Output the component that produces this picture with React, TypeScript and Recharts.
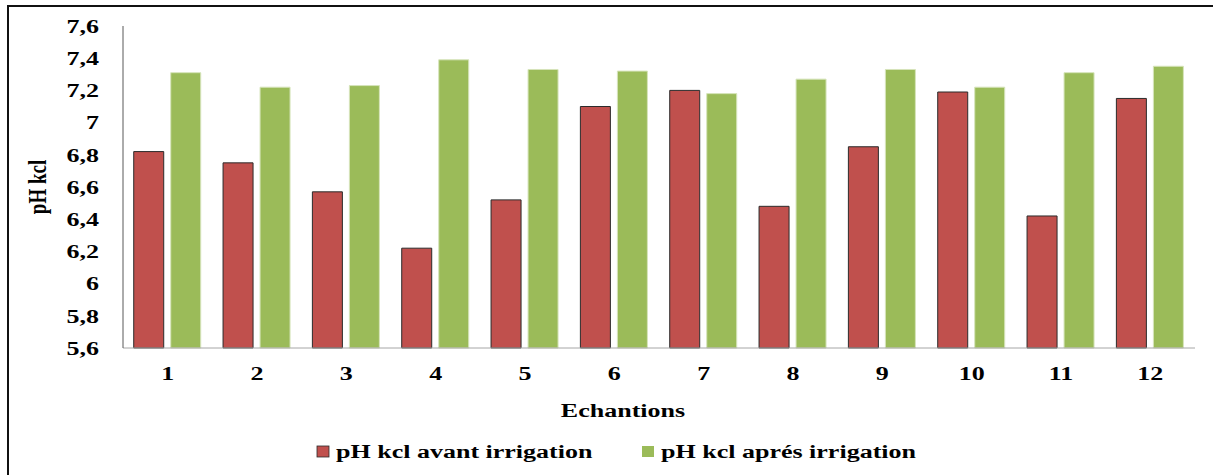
import React from 'react';
import { BarChart, Bar, XAxis, YAxis } from 'recharts';

const echantillons = ['1', '2', '3', '4', '5', '6', '7', '8', '9', '10', '11', '12'];
const avantIrrigation = [6.82, 6.75, 6.57, 6.22, 6.52, 7.1, 7.2, 6.48, 6.85, 7.19, 6.42, 7.15];
const apresIrrigation = [7.31, 7.22, 7.23, 7.39, 7.33, 7.32, 7.18, 7.27, 7.33, 7.22, 7.31, 7.35];
const yTicks = [5.6, 5.8, 6, 6.2, 6.4, 6.6, 6.8, 7, 7.2, 7.4, 7.6];
const seriesNames = ['pH kcl avant irrigation', 'pH kcl aprés irrigation'];

const RED = '#C0504D';
const GREEN = '#9BBB59';
const FONT = '"Liberation Serif", "Times New Roman", serif';
const SX = 1.37; // the original picture is stretched horizontally

const data = echantillons.map((name, i) => ({
  name,
  avant: avantIrrigation[i],
  apres: apresIrrigation[i],
}));

const fmt = (v: number) => String(parseFloat(v.toFixed(1))).replace('.', ',');

const YTick = (props: any) => {
  const { x, y, payload } = props;
  return (
    <g transform={`translate(${x},${y})`}>
      <text transform={`scale(${SX},1)`} textAnchor="end" dy="0.36em" fontFamily={FONT} fontWeight="bold" fontSize={19} fill="#000">
        {fmt(payload.value)}
      </text>
    </g>
  );
};

const XTick = (props: any) => {
  const { x, y, payload } = props;
  return (
    <g transform={`translate(${x},${y})`}>
      <text transform={`scale(${SX},1)`} textAnchor="middle" dy={32} fontFamily={FONT} fontWeight="bold" fontSize={19} fill="#000">
        {payload.value}
      </text>
    </g>
  );
};

export default function App() {
  return (
    <div style={{ position: 'absolute', left: 0, top: 0, width: 1213, height: 475, background: '#fff', overflow: 'hidden' }}>
      <div style={{ position: 'absolute', left: 7, top: 5, width: 1213, height: 475, borderTop: '2px solid #111', borderLeft: '2px solid #111' }} />
      <div style={{ position: 'absolute', left: 0, top: 0 }}>
        <BarChart
          width={1213}
          height={475}
          data={data}
          margin={{ top: 26, right: 18, left: 0, bottom: 97 }}
          barCategoryGap="12%"
          barGap={7}
        >
          <XAxis
            dataKey="name"
            height={30}
            tickSize={0}
            tickMargin={0}
            tick={<XTick />}
            interval={0}
            stroke="#a6a6a6"
            label={() => (
              <g transform="translate(623,417)">
                <text transform={`scale(${SX},1)`} textAnchor="middle" fontFamily={FONT} fontWeight="bold" fontSize={19} fill="#000">
                  Echantions
                </text>
              </g>
            )}
          />
          <YAxis
            width={123}
            domain={[5.6, 7.6]}
            ticks={yTicks}
            interval={0}
            tickSize={0}
            tickMargin={24}
            tick={<YTick />}
            stroke="#595959"
            label={() => (
              <g transform={`translate(46,187) scale(${SX},1) rotate(-90)`}>
                <text textAnchor="middle" fontFamily={FONT} fontWeight="bold" fontSize={19} fill="#000">
                  pH kcl
                </text>
              </g>
            )}
          />
          <Bar dataKey="avant" name={seriesNames[0]} fill={RED} stroke="#2b2b2b" strokeWidth={1} isAnimationActive={false} />
          <Bar dataKey="apres" name={seriesNames[1]} fill={GREEN} stroke="#d6e4bb" strokeWidth={1} isAnimationActive={false} />
        </BarChart>
      </div>
      {/* legend */}
      <svg style={{ position: 'absolute', left: 0, top: 435 }} width={1213} height={35}>
        {seriesNames.map((n, i) => {
          const x0 = i === 0 ? 317 : 642;
          return (
            <g key={n}>
              <rect x={x0} y={11} width={12} height={11} fill={i === 0 ? RED : GREEN} stroke={i === 0 ? '#2b2b2b' : 'none'} strokeWidth={0.8} />
              <g transform={`translate(${x0 + 19},23)`}>
                <text transform={`scale(${SX},1)`} fontFamily={FONT} fontWeight="bold" fontSize={19} fill="#000">
                  {n}
                </text>
              </g>
            </g>
          );
        })}
      </svg>
    </div>
  );
}
